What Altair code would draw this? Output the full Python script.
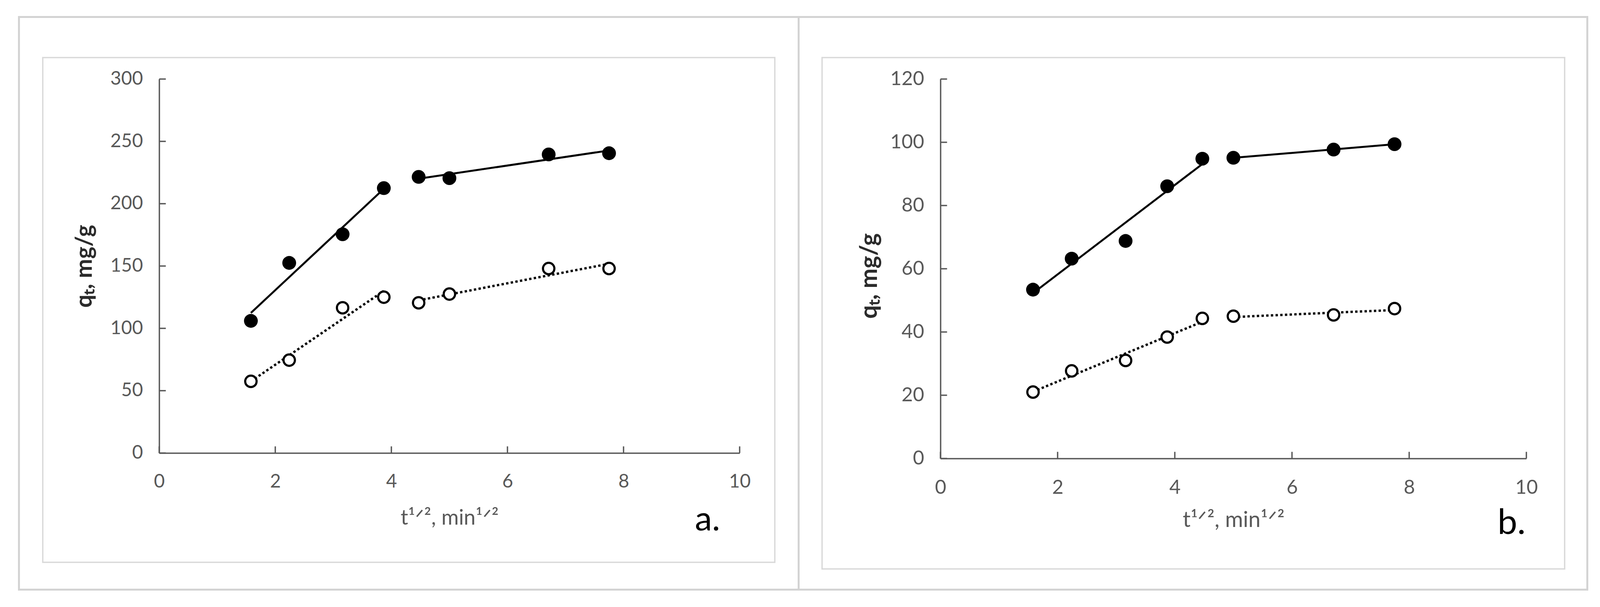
import altair as alt
import pandas as pd

# ---------------- data ----------------
x_vals = [1.58, 2.24, 3.16, 3.87, 4.47, 5.00, 6.71, 7.75]

a_filled = [106.0, 152.5, 175.5, 212.5, 221.5, 220.5, 239.5, 240.5]
a_open = [57.5, 74.5, 116.5, 125.0, 120.5, 127.5, 148.0, 148.0]
a_seg = [1, 1, 1, 1, 2, 2, 2, 2]

b_filled = [53.4, 63.2, 68.8, 86.1, 94.8, 95.1, 97.7, 99.4]
b_open = [21.0, 27.7, 31.0, 38.4, 44.3, 45.0, 45.4, 47.4]
b_seg = [1, 1, 1, 1, 1, 2, 2, 2]

x_ticks = [0, 2, 4, 6, 8, 10]
a_yticks = [0, 50, 100, 150, 200, 250, 300]
b_yticks = [0, 20, 40, 60, 80, 100, 120]

FONT = "Lato"
AX = "#595959"
LC = "#595959"
FRAME = "#d3d3d3"
BOX = "#d9d9d9"


def make_df(filled, opn, seg):
    rows = []
    for x, f, o, s in zip(x_vals, filled, opn, seg):
        rows.append({"x": x, "y": f, "series": "filled", "seg": s})
        rows.append({"x": x, "y": o, "series": "open", "seg": s})
    return pd.DataFrame(rows)


one = pd.DataFrame({"k": [0]})


def rect(x1, x2, y1, y2, color, width):
    return alt.Chart(one).mark_rect(filled=False, stroke=color, strokeWidth=width).encode(
        x=alt.value(x1), x2=alt.value(x2), y=alt.value(y1), y2=alt.value(y2)
    )


def panel(df, W, H, ymax, yticks, frames, letter, lab_size, title_size,
          ytitle_off, ytitle_y, xtitle_y, letter_x, letter_y, letter_size):
    xs = alt.Scale(domain=[0, 10], nice=False, zero=True)
    ys = alt.Scale(domain=[0, ymax], nice=False, zero=True)
    xaxis = alt.Axis(values=x_ticks, ticks=False, tickSize=0, grid=False,
                     domainColor=AX, domainWidth=3.5, labelFlush=False,
                     labelFont=FONT, labelFontSize=lab_size, labelColor=LC,
                     labelPadding=50, title="t¹ᐟ², min¹ᐟ²", titleFont=FONT,
                     titleFontSize=title_size, titleFontWeight="normal",
                     titleColor=LC, titleX=W / 2, titleY=xtitle_y,
                     titleBaseline="alphabetic", titleAlign="center")
    yaxis = alt.Axis(values=yticks, ticks=False, tickSize=0, grid=False,
                     domainColor=AX, domainWidth=3.5, labelFlush=False,
                     labelFont=FONT, labelFontSize=lab_size, labelColor=LC,
                     labelPadding=42, title="qₜ, mg/g", titleFont=FONT,
                     titleFontSize=title_size + 5, titleFontWeight="bold",
                     titleColor="#2b2b2b", titleAngle=270, titleX=-ytitle_off,
                     titleY=ytitle_y, titleBaseline="alphabetic",
                     titleAlign="center")
    X = alt.X("x:Q", scale=xs, axis=xaxis)
    Y = alt.Y("y:Q", scale=ys, axis=yaxis)

    layers = list(frames)

    xt = alt.Chart(pd.DataFrame({"x": x_ticks})).mark_rule(
        color=AX, strokeWidth=3.5).encode(x=X, y=alt.value(H), y2=alt.value(H - 17))
    yt = alt.Chart(pd.DataFrame({"y": yticks})).mark_rule(
        color=AX, strokeWidth=3.5).encode(y=Y, x=alt.value(0), x2=alt.value(17))
    layers += [xt, yt]

    base = alt.Chart(df)
    solid = base.transform_filter(alt.datum.series == "filled").transform_regression(
        "x", "y", groupby=["seg"]).mark_line(color="black", strokeWidth=5).encode(
        x=X, y=Y, detail="seg:N")
    dotted = base.transform_filter(alt.datum.series == "open").transform_regression(
        "x", "y", groupby=["seg"]).mark_line(color="black", strokeWidth=6,
                                             strokeDash=[6, 6]).encode(
        x=X, y=Y, detail="seg:N")
    pts_f = base.transform_filter(alt.datum.series == "filled").mark_point(
        shape="circle", filled=True, color="black", size=1250, opacity=1).encode(x=X, y=Y)
    pts_o = base.transform_filter(alt.datum.series == "open").mark_point(
        shape="circle", filled=True, fill="white", stroke="black", strokeWidth=5.5,
        size=850, opacity=1).encode(x=X, y=Y)
    lab = alt.Chart(one).mark_text(text=letter, font=FONT, fontSize=letter_size,
                                   align="right", baseline="alphabetic",
                                   color="black").encode(
        x=alt.value(letter_x), y=alt.value(letter_y))
    layers += [solid, dotted, pts_o, pts_f, lab]
    return alt.layer(*layers).properties(width=W, height=H)


Wa, Ha = 1486, 958
Wb, Hb = 1500, 972

frames_a = [
    rect(-359, 3656, -159, 1308, FRAME, 5),
    alt.Chart(one).mark_rule(color=FRAME, strokeWidth=5).encode(
        x=alt.value(1637), y=alt.value(-159), y2=alt.value(1308)),
    rect(-298, 1576, -55, 1238, BOX, 3.5),
]
frames_b = [
    rect(-303, 1598, -55, 1255, BOX, 3.5),
]

pa = panel(make_df(a_filled, a_open, a_seg), Wa, Ha, 300, a_yticks, frames_a, "a.",
           48, 54, 173, Ha / 2, 183, 1436, Ha + 198, 88)
pb = panel(make_df(b_filled, b_open, b_seg), Wb, Hb, 120, b_yticks, frames_b, "b.",
           50, 56, 163, 504, 175, 1498, Hb + 193, 90)

chart = alt.hconcat(pa, pb, spacing=514, bounds="flush").properties(
    padding={"left": 37.5, "top": 32.5, "right": 5, "bottom": 5},
    background="white",
).configure_view(stroke=None)

chart.save("out.html", embed_options={"renderer": "svg", "actions": False})
